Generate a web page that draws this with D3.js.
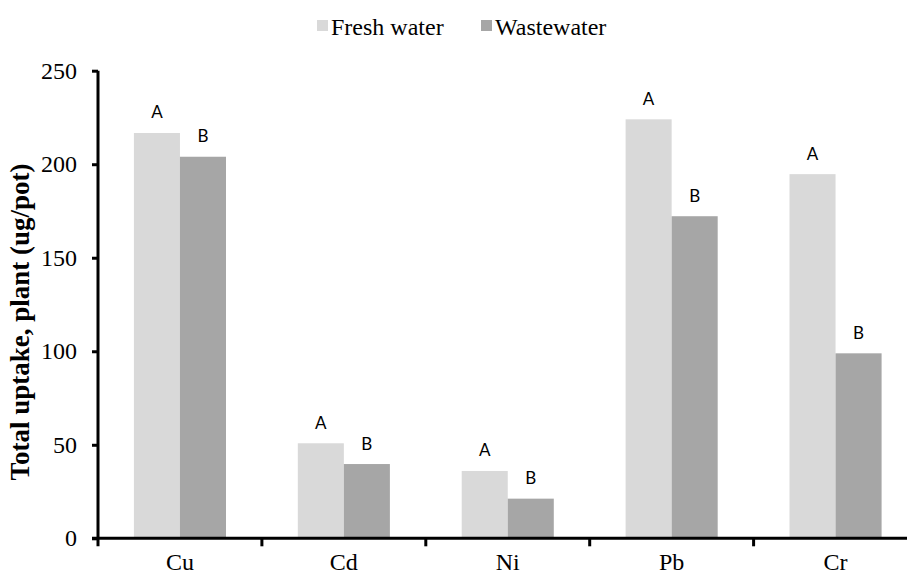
<!DOCTYPE html>
<html>
<head>
<meta charset="utf-8">
<script src="https://cdn.jsdelivr.net/npm/d3@7"></script>
<style>
  body { margin: 0; background: #fff; }
  svg { display: block; }
</style>
</head>
<body>
<script>
// chart data
var metals = ["Cu", "Cd", "Ni", "Pb", "Cr"];
var series = ["Fresh water", "Wastewater"];
var freshWater = [216.7, 50.8, 36.0, 224.0, 194.7];
var wasteWater = [204.0, 39.7, 21.2, 172.2, 98.9];
var freshLetters = ["A", "A", "A", "A", "A"];
var wasteLetters = ["B", "B", "B", "B", "B"];
var yTicks = [0, 50, 100, 150, 200, 250];
var colors = ["#d9d9d9", "#a6a6a6"];

// set up dimensions
var width = 907,
    height = 576;

var serif = "'Liberation Serif', 'Times New Roman', serif";

var svg = d3.select("body")
            .append("svg")
            .attr("width", width)
            .attr("height", height);

// scales
var y = d3.scaleLinear()
    .domain([0, 250])
    .range([538.3, 70.7]);

var x0 = d3.scaleBand()
    .domain(metals)
    .range([98, 917.5])
    .padding(0);

var x1 = d3.scaleBand()
    .domain(series)
    .range([0, x0.bandwidth()])
    .paddingInner(0)
    .paddingOuter(0.78);

var color = d3.scaleOrdinal().domain(series).range(colors);

// build rows from arrays
var rows = metals.map(function(m, i) {
  return [
    {metal: m, key: series[0], value: freshWater[i], letter: freshLetters[i]},
    {metal: m, key: series[1], value: wasteWater[i], letter: wasteLetters[i]}
  ];
});

// bars
var group = svg.append("g")
    .selectAll("g")
    .data(rows)
    .enter()
    .append("g")
    .attr("transform", function(d) { return "translate(" + x0(d[0].metal) + ",0)"; });

group.selectAll("rect")
    .data(function(d) { return d; })
    .enter()
    .append("rect")
    .attr("x", function(d) { return x1(d.key); })
    .attr("y", function(d) { return y(d.value); })
    .attr("width", x1.bandwidth())
    .attr("height", function(d) { return y(0) - y(d.value); })
    .style("fill", function(d) { return color(d.key); });

// significance letters
group.selectAll("text")
    .data(function(d) { return d; })
    .enter()
    .append("text")
    .attr("x", function(d) { return x1(d.key) + x1.bandwidth() / 2; })
    .attr("y", function(d) { return y(d.value) - 14.5; })
    .attr("text-anchor", "middle")
    .style("font-family", "Lato, 'Liberation Sans', sans-serif")
    .style("font-size", "17px")
    .style("fill", "#000")
    .text(function(d) { return d.letter; });

// y axis
var yAxis = svg.append("g")
    .attr("transform", "translate(98,0)")
    .call(d3.axisLeft(y).tickValues(yTicks).tickSize(6).tickPadding(15).tickFormat(d3.format("d")));

yAxis.select(".domain")
    .attr("d", "M0," + y(250) + "V" + (y(0) + 8))
    .style("stroke", "#000")
    .style("stroke-width", 3);
yAxis.selectAll(".tick line").style("stroke", "#000").style("stroke-width", 3);
yAxis.selectAll(".tick text")
    .style("font-family", serif)
    .style("font-size", "24px")
    .style("fill", "#000");

// x axis labels
var xAxis = svg.append("g")
    .attr("transform", "translate(0," + y(0) + ")")
    .call(d3.axisBottom(x0).tickSize(0).tickPadding(15));

xAxis.select(".domain").remove();
xAxis.selectAll(".tick text")
    .style("font-family", serif)
    .style("font-size", "24px")
    .style("fill", "#000");

// x axis line and boundary ticks
svg.append("line")
    .attr("x1", 92)
    .attr("x2", x0.range()[1])
    .attr("y1", y(0))
    .attr("y2", y(0))
    .style("stroke", "#000")
    .style("stroke-width", 3);

svg.append("g")
    .selectAll("line")
    .data(metals.slice(1))
    .enter()
    .append("line")
    .attr("x1", function(d) { return x0(d); })
    .attr("x2", function(d) { return x0(d); })
    .attr("y1", y(0))
    .attr("y2", y(0) + 8)
    .style("stroke", "#000")
    .style("stroke-width", 3);

// y axis title
svg.append("text")
    .attr("transform", "translate(29,322) rotate(-90)")
    .attr("text-anchor", "middle")
    .style("font-family", serif)
    .style("font-weight", "bold")
    .style("font-size", "27px")
    .text("Total uptake, plant (ug/pot)");

// legend
var legendX = [317, 481];
var legend = svg.append("g")
    .selectAll("g")
    .data(series)
    .enter()
    .append("g")
    .attr("transform", function(d, i) { return "translate(" + legendX[i] + ",0)"; });

legend.append("rect")
    .attr("x", 0)
    .attr("y", 20)
    .attr("width", 11)
    .attr("height", 11)
    .style("fill", function(d) { return color(d); });

legend.append("text")
    .attr("x", 14)
    .attr("y", 35)
    .style("font-family", serif)
    .style("font-size", "24px")
    .style("fill", "#000")
    .text(function(d) { return d; });
</script>
</body>
</html>
